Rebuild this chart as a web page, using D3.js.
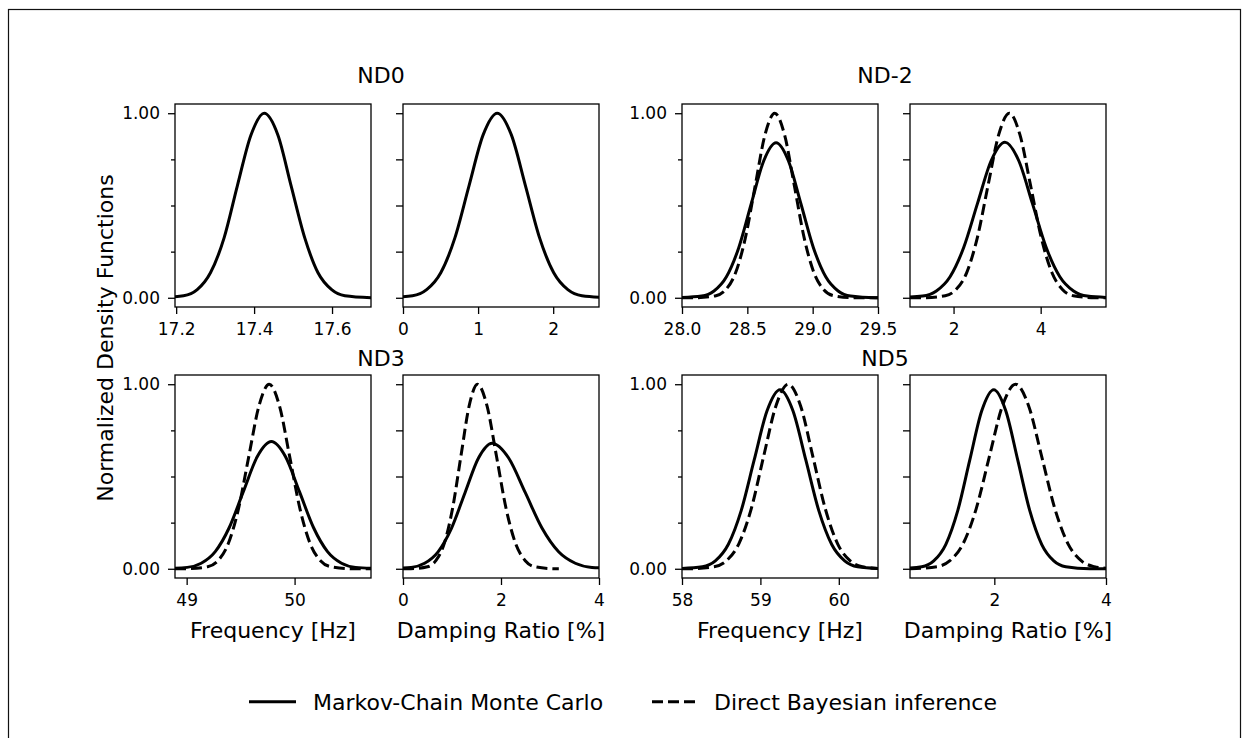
<!DOCTYPE html>
<html>
<head>
<meta charset="utf-8">
<script src="https://cdn.jsdelivr.net/npm/d3@7"></script>
<style>
  html, body { margin: 0; padding: 0; background: #fff; }
  svg { display: block; }
  text { font-family: "DejaVu Sans", sans-serif; fill: #000; }
</style>
</head>
<body>
<svg id="chart" width="1248" height="738"></svg>
<script>
// ---------------- DATA ----------------
const groupTitles = ["ND0", "ND-2", "ND3", "ND5"];
const xAxisLabels = ["Frequency [Hz]", "Damping Ratio [%]"];
const yAxisLabel = "Normalized Density Functions";
const seriesNames = ["Markov-Chain Monte Carlo", "Direct Bayesian inference"];

const xDomains = [
  [17.197, 17.70], [0, 2.61], [28.0, 29.5], [1.0, 5.5],
  [48.892, 50.708], [0, 4], [58.0, 60.5], [0.49, 4.0]
];
const xTickValues = [
  [17.2, 17.4, 17.6], [0, 1, 2], [28.0, 28.5, 29.0, 29.5], [2, 4],
  [49, 50], [0, 2, 4], [58, 59, 60], [2, 4]
];
const xTickFormats = [".1f", "d", ".1f", "d", "d", "d", "d", "d"];
const yDomain = [-0.05, 1.05];
const yMajorTicks = [0, 1];
const yMinorTicks = [0.25, 0.5, 0.75];
const yAllTicks = [0, 0.25, 0.5, 0.75, 1];

// ND0 - frequency
const nd0FreqMcmcX = [17.150,17.219,17.254,17.288,17.323,17.357,17.392,17.426,17.461,17.495,17.530,17.564,17.599,17.633,17.702];
const nd0FreqMcmcY = [0.0003,0.0111,0.0439,0.1353,0.3247,0.6065,0.8825,1,0.8825,0.6065,0.3247,0.1353,0.0439,0.0111,0.0003];
// ND0 - damping
const nd0DampMcmcX = [-0.249,0.127,0.315,0.503,0.691,0.879,1.067,1.255,1.443,1.631,1.819,2.007,2.195,2.383,2.759];
const nd0DampMcmcY = [0.0003,0.0111,0.0439,0.1353,0.3247,0.6065,0.8825,1,0.8825,0.6065,0.3247,0.1353,0.0439,0.0111,0.0003];

// ND-2 - frequency
const nd2FreqMcmcX = [27.96,28.15,28.245,28.34,28.435,28.53,28.625,28.72,28.815,28.91,29.005,29.10,29.195,29.29,29.48,29.5];
const nd2FreqMcmcY = [0.0003,0.0093,0.0369,0.1137,0.2727,0.5095,0.7413,0.84,0.7413,0.5095,0.2727,0.1137,0.0369,0.0093,0.0003,0.0002];
const nd2FreqDbiX = [28.0,28.11,28.26,28.335,28.41,28.485,28.56,28.635,28.71,28.785,28.86,28.935,29.01,29.085,29.16,29.31,29.5];
const nd2FreqDbiY = [0,0.0003,0.0111,0.0439,0.1353,0.3247,0.6065,0.8825,1,0.8825,0.6065,0.3247,0.1353,0.0439,0.0111,0.0003,0];
// ND-2 - damping
const nd2DampMcmcX = [0.66,1.29,1.605,1.92,2.235,2.55,2.865,3.18,3.495,3.81,4.125,4.44,4.755,5.07,5.70];
const nd2DampMcmcY = [0.0003,0.0094,0.0370,0.1141,0.2737,0.5113,0.7439,0.843,0.7439,0.5113,0.2737,0.1141,0.0370,0.0094,0.0003];
const nd2DampDbiX = [1.0,1.32,1.81,2.055,2.30,2.545,2.79,3.035,3.28,3.525,3.77,4.015,4.26,4.505,4.75,5.24,5.5];
const nd2DampDbiY = [0,0.0003,0.0111,0.0439,0.1353,0.3247,0.6065,0.8825,1,0.8825,0.6065,0.3247,0.1353,0.0439,0.0111,0.0003,0];

// ND3 - frequency
const nd3FreqMcmcX = [48.745,49.005,49.135,49.265,49.395,49.525,49.655,49.785,49.915,50.045,50.175,50.305,50.435,50.565,50.825];
const nd3FreqMcmcY = [0.0002,0.0076,0.0302,0.0932,0.2237,0.4179,0.6080,0.689,0.6080,0.4179,0.2237,0.0932,0.0302,0.0076,0.0002];
const nd3FreqDbiX = [48.892,49.005,49.195,49.29,49.385,49.48,49.575,49.67,49.765,49.86,49.955,50.05,50.145,50.24,50.335,50.525,50.708];
const nd3FreqDbiY = [0,0.0003,0.0111,0.0439,0.1353,0.3247,0.6065,0.8825,1,0.8825,0.6065,0.3247,0.1353,0.0439,0.0111,0.0003,0];
// ND3 - damping
const nd3DampMcmcX = [-0.384,0.166,0.441,0.716,0.991,1.266,1.541,1.816,2.156,2.496,2.836,3.176,3.516,3.856,4.536];
const nd3DampMcmcY = [0.0002,0.0075,0.0299,0.0920,0.2208,0.4124,0.6001,0.68,0.6001,0.4124,0.2208,0.0920,0.0299,0.0075,0.0002];
const nd3DampDbiX = [0,0.16,0.50,0.67,0.84,1.01,1.18,1.35,1.52,1.715,1.91,2.105,2.30,2.495,2.69,3.08,3.18];
const nd3DampDbiY = [0,0.0003,0.0111,0.0439,0.1353,0.3247,0.6065,0.8825,1,0.8825,0.6065,0.3247,0.1353,0.0439,0.0111,0.0003,0];

// ND5 - frequency
const nd5FreqMcmcX = [57.93,58.26,58.425,58.59,58.755,58.92,59.085,59.25,59.415,59.58,59.745,59.91,60.075,60.24,60.57];
const nd5FreqMcmcY = [0.0003,0.0108,0.0426,0.1312,0.3150,0.5883,0.8560,0.97,0.8560,0.5883,0.3150,0.1312,0.0426,0.0108,0.0003];
const nd5FreqDbiX = [58.0,58.095,58.41,58.568,58.725,58.883,59.04,59.198,59.355,59.513,59.67,59.828,59.985,60.143,60.30,60.5];
const nd5FreqDbiY = [0,0.0003,0.0111,0.0439,0.1353,0.3247,0.6065,0.8825,1,0.8825,0.6065,0.3247,0.1353,0.0439,0.0111,0.0014];
// ND5 - damping
const nd5DampMcmcX = [0.27,0.70,0.915,1.13,1.345,1.56,1.775,1.99,2.205,2.42,2.635,2.85,3.065,3.28,3.71,4.0];
const nd5DampMcmcY = [0.0003,0.0108,0.0426,0.1312,0.3150,0.5883,0.8560,0.97,0.8560,0.5883,0.3150,0.1312,0.0426,0.0108,0.0003,0];
const nd5DampDbiX = [0.49,0.97,1.205,1.44,1.675,1.91,2.145,2.38,2.615,2.85,3.085,3.32,3.555,3.79,4.0];
const nd5DampDbiY = [0.0003,0.0111,0.0439,0.1353,0.3247,0.6065,0.8825,1,0.8825,0.6065,0.3247,0.1353,0.0439,0.0111,0.0026];

const panelSeries = [
  { mcmc: [nd0FreqMcmcX, nd0FreqMcmcY], dbi: null },
  { mcmc: [nd0DampMcmcX, nd0DampMcmcY], dbi: null },
  { mcmc: [nd2FreqMcmcX, nd2FreqMcmcY], dbi: [nd2FreqDbiX, nd2FreqDbiY] },
  { mcmc: [nd2DampMcmcX, nd2DampMcmcY], dbi: [nd2DampDbiX, nd2DampDbiY] },
  { mcmc: [nd3FreqMcmcX, nd3FreqMcmcY], dbi: [nd3FreqDbiX, nd3FreqDbiY] },
  { mcmc: [nd3DampMcmcX, nd3DampMcmcY], dbi: [nd3DampDbiX, nd3DampDbiY] },
  { mcmc: [nd5FreqMcmcX, nd5FreqMcmcY], dbi: [nd5FreqDbiX, nd5FreqDbiY] },
  { mcmc: [nd5DampMcmcX, nd5DampMcmcY], dbi: [nd5DampDbiX, nd5DampDbiY] }
];

// ---------------- LAYOUT ----------------
const svg = d3.select("#chart");
const colLeft = [175, 403, 682, 910];
const rowTop = [104, 375];
const pw = 196, ph = 203;
const lineW = 3;
const dashPattern = "11,5";

// outer border
svg.append("rect")
  .attr("x", 8.5).attr("y", 9.5)
  .attr("width", 1232).attr("height", 760)
  .attr("fill", "none").attr("stroke", "#111").attr("stroke-width", 1.2);

const line = (xs, ys, xS, yS) => d3.line()
  .x(d => xS(d[0])).y(d => yS(d[1]))
  .curve(d3.curveMonotoneX)(xs.map((v, i) => [v, ys[i]]));

panelSeries.forEach((ps, i) => {
  const row = Math.floor(i / 4);
  const col = i % 4;
  const left = colLeft[col], top = rowTop[row];
  const g = svg.append("g").attr("transform", `translate(${left},${top})`);
  const x = d3.scaleLinear().domain(xDomains[i]).range([0, pw]);
  const y = d3.scaleLinear().domain(yDomain).range([ph, 0]);

  const clipId = "clip" + i;
  g.append("clipPath").attr("id", clipId)
    .append("rect").attr("x", 0).attr("y", 0).attr("width", pw).attr("height", ph);

  const curves = g.append("g").attr("clip-path", `url(#${clipId})`);
  if (ps.dbi) {
    curves.append("path")
      .attr("d", line(ps.dbi[0], ps.dbi[1], x, y))
      .attr("fill", "none").attr("stroke", "#000")
      .attr("stroke-width", lineW).attr("stroke-dasharray", dashPattern);
  }
  curves.append("path")
    .attr("d", line(ps.mcmc[0], ps.mcmc[1], x, y))
    .attr("fill", "none").attr("stroke", "#000")
    .attr("stroke-width", lineW);

  // x axis
  const fmt = d3.format(xTickFormats[i]);
  g.append("g").attr("transform", `translate(0,${ph})`)
    .call(d3.axisBottom(x).tickValues(xTickValues[i]).tickFormat(fmt)
      .tickSize(7).tickPadding(9).tickSizeOuter(0));
  // y axis
  if (col === 0 || col === 2) {
    g.append("g").call(d3.axisLeft(y).tickValues(yMajorTicks)
      .tickFormat(d3.format(".2f")).tickSize(7).tickPadding(8).tickSizeOuter(0));
    g.append("g").call(d3.axisLeft(y).tickValues(yMinorTicks)
      .tickFormat("").tickSize(4).tickSizeOuter(0));
  } else {
    g.append("g").call(d3.axisLeft(y).tickValues(yAllTicks)
      .tickFormat("").tickSize(7).tickSizeOuter(0));
  }
  g.selectAll(".domain").remove();
  g.selectAll(".tick line").attr("stroke", "#000").attr("stroke-width", 1.3);
  g.selectAll(".tick text").attr("font-size", 17).attr("font-family", "DejaVu Sans").attr("fill", "#000");

  // frame
  g.append("rect").attr("x", 0).attr("y", 0).attr("width", pw).attr("height", ph)
    .attr("fill", "none").attr("stroke", "#000").attr("stroke-width", 1.3);

  // x labels on bottom row
  if (row === 1) {
    g.append("text")
      .attr("x", pw / 2).attr("y", ph + 60)
      .attr("text-anchor", "middle").attr("font-size", 22)
      .text(xAxisLabels[col % 2]);
  }
});

// group titles
const titlePos = [[381, 83], [885, 83], [381, 366], [885, 366]];
groupTitles.forEach((t, i) => {
  svg.append("text").attr("x", titlePos[i][0]).attr("y", titlePos[i][1])
    .attr("text-anchor", "middle").attr("font-size", 22).text(t);
});

// y label
svg.append("text")
  .attr("transform", "translate(113,338) rotate(-90)")
  .attr("text-anchor", "middle").attr("font-size", 22)
  .text(yAxisLabel);

// legend
const legY = 701.7;
const leg = svg.append("g");
leg.append("line").attr("x1", 249).attr("x2", 296).attr("y1", legY).attr("y2", legY)
  .attr("stroke", "#000").attr("stroke-width", lineW);
leg.append("text").attr("x", 313).attr("y", legY + 8).attr("font-size", 22).text(seriesNames[0]);
leg.append("line").attr("x1", 652).attr("x2", 696).attr("y1", legY).attr("y2", legY)
  .attr("stroke", "#000").attr("stroke-width", lineW).attr("stroke-dasharray", dashPattern);
leg.append("text").attr("x", 714).attr("y", legY + 8).attr("font-size", 22).text(seriesNames[1]);
</script>
</body>
</html>
